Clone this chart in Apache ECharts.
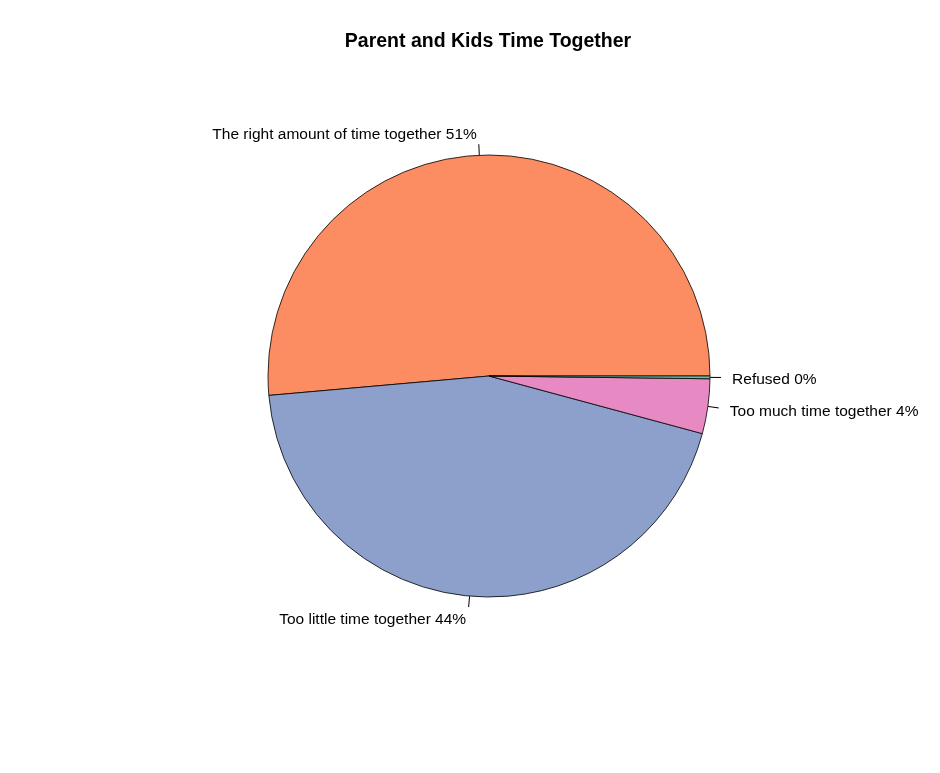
<!DOCTYPE html>
<html><head><meta charset="utf-8">
<script src="https://cdn.jsdelivr.net/npm/echarts@6/dist/echarts.min.js"></script>
<style>html,body{margin:0;padding:0;background:#fff}#c{width:940px;height:773px}</style>
</head><body><div id="c"></div>
<script>
const categories = ["The right amount of time together", "Too little time together", "Too much time together", "Refused"];
const values = [51.4, 44.4, 4.0, 0.2];
const colors = ["#FC8D62", "#8DA0CB", "#E78AC3", "#66C2A5"];
const titleText = "Parent and Kids Time Together";

const R = 221;
const chart = echarts.init(document.getElementById('c'), null, {renderer: 'canvas'});
chart.setOption({
  animation: false,
  backgroundColor: '#ffffff',
  title: {
    text: titleText, left: 483, top: 27, textAlign: 'center',
    textStyle: {fontFamily: 'Liberation Sans, Arial', fontWeight: 'bold', fontSize: 19.5, color: '#000'}
  },
  series: [{
    type: 'pie',
    center: [489, 376],
    radius: R,
    startAngle: 0,
    clockwise: false,
    avoidLabelOverlap: false,
    percentPrecision: 2,
    minAngle: 0,
    data: categories.map((c, i) => ({name: c, value: values[i], itemStyle: {color: colors[i]}})),
    itemStyle: {borderColor: '#000', borderWidth: 0.8},
    label: {
      show: true, position: 'outside',
      formatter: p => p.name + ' ' + Math.round(p.percent) + '%',
      fontFamily: 'Liberation Sans, Arial', fontSize: 15.5, color: '#000'
    },
    labelLine: {show: true, length: 11, length2: 0, smooth: false, lineStyle: {color: '#000', width: 1}},
    labelLayout: function (params) {
      const pts = params.labelLinePoints;
      if (!pts) return {};
      const p0 = pts[0], p1 = pts[1];
      const dx = p1[0] - p0[0], dy = p1[1] - p0[1];
      const len = Math.sqrt(dx * dx + dy * dy) || 1;
      const ux = dx / len, uy = dy / len;
      const off = 0.1 * R;
      return {
        x: p0[0] + ux * off - (ux < 0 ? 1.5 : 0),
        y: p0[1] + uy * off + 2,
        align: ux < 0 ? 'right' : 'left',
        verticalAlign: 'middle',
        labelLinePoints: [p0, p1, p1]
      };
    },
    emphasis: {disabled: true}
  }]
});
</script></body></html>
